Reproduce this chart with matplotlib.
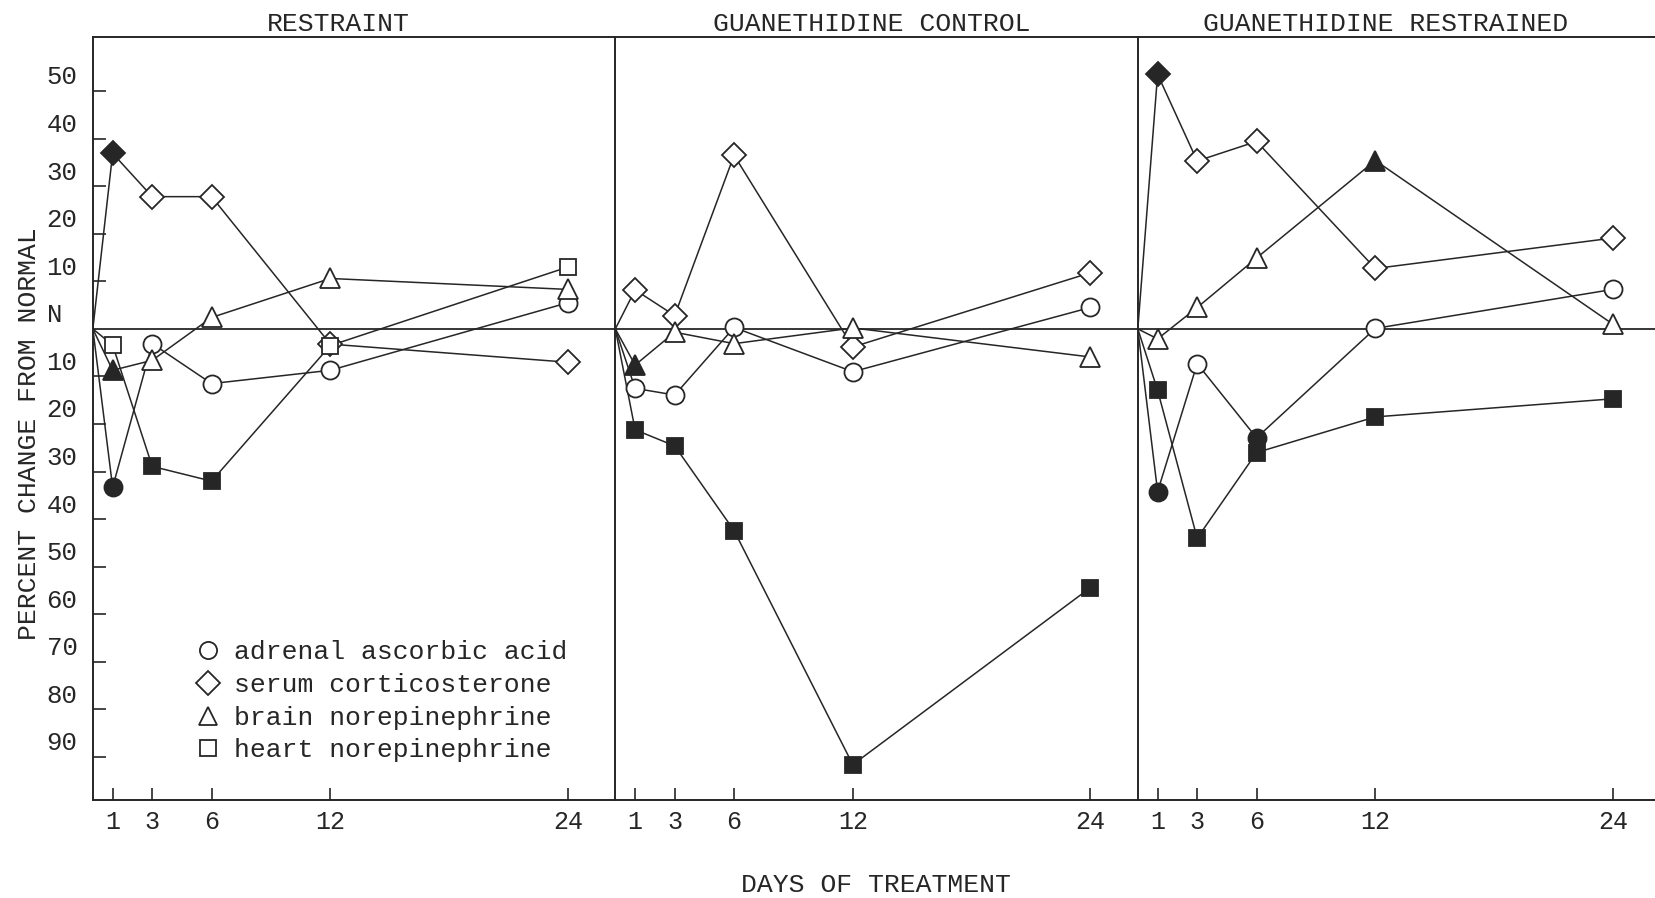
import matplotlib.pyplot as plt
from matplotlib.lines import Line2D

plt.rcParams['font.family'] = ['Liberation Mono', 'DejaVu Sans Mono']

# days of treatment (day 0 = normal baseline)
days = [1, 3, 6, 12, 24]
panels = ["RESTRAINT", "GUANETHIDINE CONTROL", "GUANETHIDINE RESTRAINED"]

# percent change from normal, one row per panel
adrenal = [[-33.3, -3.1, -11.5, -8.7, 5.5],
           [-12.5, -13.9, 0.3, -9.0, 4.5],
           [-34.2, -7.3, -22.9, 0.1, 8.3]]
cortico = [[36.9, 27.8, 27.8, -3.2, -7.0],
           [8.2, 2.8, 36.5, -3.8, 11.8],
           [53.5, 35.3, 39.4, 12.7, 19.1]]
brain_ne = [[-8.7, -6.6, 2.4, 10.6, 8.3],
            [-7.6, -0.7, -3.1, 0.2, -5.9],
            [-2.1, 4.5, 14.9, 35.4, 1.0]]
heart_ne = [[-3.4, -28.9, -32.0, -3.5, 13.0],
            [-21.2, -24.6, -42.4, -91.6, -54.4],
            [-12.9, -44.0, -26.0, -18.5, -14.7]]

# filled (significant) points
adrenal_sig = [[1, 0, 0, 0, 0], [0, 0, 0, 0, 0], [1, 0, 1, 0, 0]]
cortico_sig = [[1, 0, 0, 0, 0], [0, 0, 0, 0, 0], [1, 0, 0, 0, 0]]
brain_sig = [[1, 0, 0, 0, 0], [1, 0, 0, 0, 0], [0, 0, 0, 1, 0]]
heart_sig = [[0, 1, 1, 0, 0], [1, 1, 1, 1, 1], [1, 1, 1, 1, 1]]

labels = ["adrenal ascorbic acid", "serum corticosterone",
          "brain norepinephrine", "heart norepinephrine"]

y_ticks = [50, 40, 30, 20, 10, 0, -10, -20, -30, -40, -50, -60, -70, -80, -90]
y_labels = ["50", "40", "30", "20", "10", "N ", "10", "20", "30", "40",
            "50", "60", "70", "80", "90"]

ink = '#262626'
series = [(adrenal, adrenal_sig, 'o', 13),
          (cortico, cortico_sig, 'D', 12.5),
          (brain_ne, brain_sig, '^', 14),
          (heart_ne, heart_sig, 's', 12)]

fig = plt.figure(figsize=(16.55, 8.98), dpi=100)
lefts = [0.0561, 0.3718, 0.6875]
width = 0.3157
bottom, top = 0.1093, 0.959
title_x = [0.47, 0.49, 0.475]
axes = []

for i, left in enumerate(lefts):
    ax = fig.add_axes([left, bottom, width, top - bottom])
    axes.append(ax)
    ax.set_xlim(0, 26.4)
    ax.set_ylim(-99, 61.4)
    ax.axhline(0, color=ink, lw=1.3, zorder=1)

    for vals, sig, marker, ms in series:
        ax.plot([0] + days, [0] + vals[i], color=ink, lw=1.1, zorder=2)
        fx = [d for d, f in zip(days, sig[i]) if f]
        fy = [v for v, f in zip(vals[i], sig[i]) if f]
        ox = [d for d, f in zip(days, sig[i]) if not f]
        oy = [v for v, f in zip(vals[i], sig[i]) if not f]
        ax.plot(ox, oy, ls='none', marker=marker, ms=ms, mfc='white',
                mec=ink, mew=1.3, zorder=3)
        ax.plot(fx, fy, ls='none', marker=marker, ms=ms, mfc=ink,
                mec=ink, mew=1.3, zorder=3)

    for side in ['left', 'top', 'bottom']:
        ax.spines[side].set_color(ink)
        ax.spines[side].set_linewidth(1.4)
    ax.spines['right'].set_visible(False)

    ax.set_xticks(days)
    ax.set_xticklabels([str(d) for d in days])
    ax.tick_params(axis='x', direction='in', length=9, width=1.2, pad=7,
                   labelsize=18, color=ink, labelcolor=ink)

    if i == 0:
        ax.set_yticks([t for t in y_ticks if t != 0], minor=True)
        ax.set_yticks([t + 3.4 for t in y_ticks])
        ax.set_yticklabels(y_labels)
        ax.tick_params(axis='y', which='minor', direction='in', length=9.5,
                       width=1.2, color=ink)
        ax.tick_params(axis='y', which='major', length=0, pad=11,
                       labelsize=18.5, labelcolor=ink)
    else:
        ax.set_yticks([])

    ax.set_title(panels[i], fontsize=19, pad=4, color=ink, x=title_x[i])

handles = [Line2D([], [], ls='none', marker=m, ms=ms * 0.95, mfc='white', mec=ink, mew=1.3)
           for _, _, m, ms in series]
axes[0].legend(handles, labels, loc='center left', bbox_to_anchor=(0.195, 0.129),
               frameon=False, fontsize=19, handlelength=1.0, handletextpad=0.5,
               labelspacing=0.33, borderaxespad=0, borderpad=0, labelcolor=ink)

fig.text(0.0178, 0.517, 'PERCENT CHANGE FROM NORMAL', rotation=90,
         ha='center', va='center', fontsize=19, color=ink)
fig.text(0.529, 0.015, 'DAYS OF TREATMENT', ha='center', va='center',
         fontsize=19, color=ink)

fig.savefig('out.png', dpi=100, facecolor='white')
